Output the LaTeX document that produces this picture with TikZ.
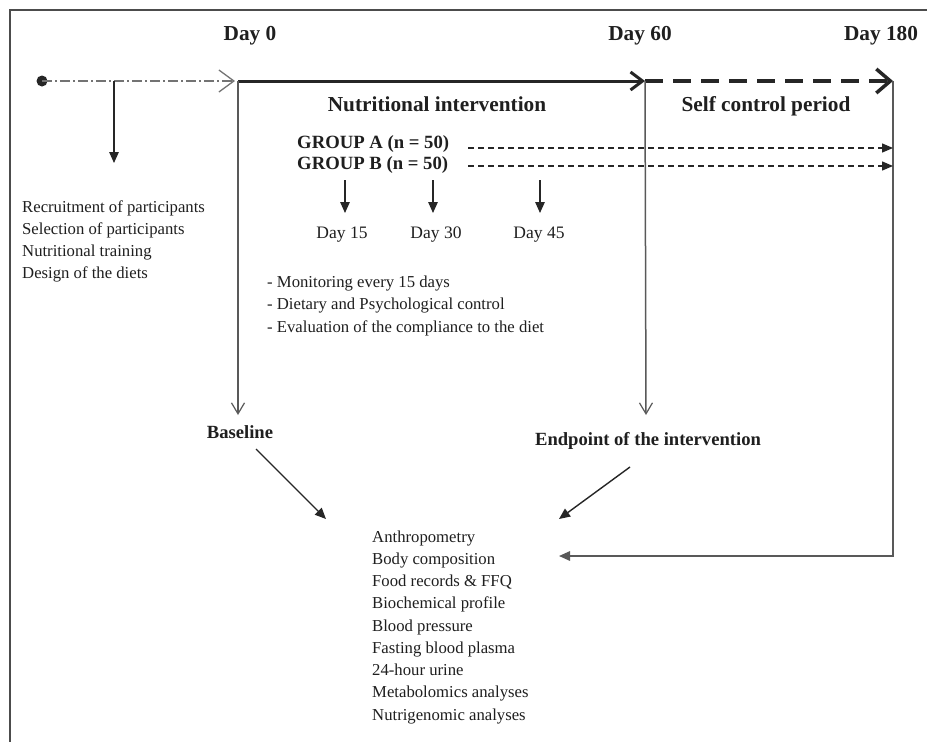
\documentclass[tikz,border=0pt]{standalone}
\usepackage{fontspec}
\setmainfont{Liberation Serif}
\usetikzlibrary{arrows.meta}
\begin{document}
\begin{tikzpicture}[x=1pt,y=-1pt,
  bodytxt/.style={inner sep=0pt,font=\fontsize{16.7}{20}\selectfont,text=black!88},
  daytxt/.style={inner sep=0pt,font=\fontsize{17.5}{20}\selectfont,text=black!88},
  headtxt/.style={inner sep=0pt,font=\fontsize{21.3}{24}\selectfont\bfseries,text=black!88},
  grouptxt/.style={inner sep=0pt,font=\fontsize{18.7}{22}\selectfont\bfseries,text=black!88},
  marktxt/.style={inner sep=0pt,font=\fontsize{18.6}{22}\selectfont\bfseries,text=black!88},
  framel/.style={draw=black!70,line width=2pt},
  filledarrow/.style={draw=black!85,line width=1.4pt,-{Triangle[length=11pt,width=9.5pt]}},
  greyvline/.style={draw=black!65,line width=1.5pt,-{Straight Barb[length=11pt,width=13pt,line width=1.2pt]}},
  dashdotline/.style={draw=black!55,line width=1.5pt,dash pattern=on 10pt off 3pt on 2pt off 3pt,
    -{Straight Barb[length=15pt,width=22pt,line width=1.3pt]}},
  thickline/.style={draw=black!85,line width=3pt,-{Straight Barb[length=12pt,width=18pt,line width=3pt]}},
  thickdash/.style={draw=black!85,line width=4pt,dash pattern=on 18pt off 10pt,
    -{Straight Barb[length=14pt,width=24pt,line width=3.5pt]}},
  groupdash/.style={draw=black!85,line width=1.3pt,dash pattern=on 6pt off 4pt,
    -{Triangle[length=11pt,width=9pt]}},
  sidevline/.style={draw=black!65,line width=1.5pt}
]
\useasboundingbox (0,0) rectangle (927,742);
\fill[white] (0,0) rectangle (927,742);
\draw[framel] (10,742) -- (10,10) -- (927,10);

% timeline coordinates
\coordinate (start) at (42,81);
\coordinate (d0) at (238,81);
\coordinate (d60) at (645,81);
\coordinate (d180) at (893,81);
\coordinate (recTop) at (114,81);
\coordinate (recTip) at (114,163);
\coordinate (d0Tip) at (238,415);
\coordinate (d60Tip) at (646,415);
\coordinate (d180Low) at (893,556);
\coordinate (listTip) at (559,556);

% day labels
\node[headtxt,anchor=base] (day0) at (250,40) {Day 0};
\node[headtxt,anchor=base] (day60) at (640,40) {Day 60};
\node[headtxt,anchor=base] (day180) at (881,40) {Day 180};

% timeline
\fill[black!85] (start) circle (5.5pt);
\draw[dashdotline,shorten >=3pt] (start) -- (d0);
\draw[filledarrow] (recTop) -- (recTip);
\draw[thickline] (d0) -- (d60);
\draw[thickdash] (d60) -- (d180);
\draw[greyvline] (d0) -- (d0Tip);
\draw[greyvline] (d60) -- (d60Tip);
\draw[sidevline,-{Triangle[length=11pt,width=9.5pt]}] (d180) -- (d180Low) -- (listTip);

% period titles
\node[headtxt,anchor=base] (nutint) at (437,111) {Nutritional intervention};
\node[headtxt,anchor=base] (selfctl) at (766,111) {Self control period};

% groups
\node[grouptxt,anchor=base west] (grpA) at (297,148) {GROUP A (n = 50)};
\node[grouptxt,anchor=base west] (grpB) at (297,169) {GROUP B (n = 50)};
\coordinate (gA0) at (468,148);
\coordinate (gA1) at (893,148);
\coordinate (gB0) at (468,166);
\coordinate (gB1) at (893,166);
\draw[groupdash] (gA0) -- (gA1);
\draw[groupdash] (gB0) -- (gB1);

% monitoring days
\foreach \xx/\lab/\cx in {345/15/342,433/30/436,540/45/539}{
  \coordinate (m\lab top) at (\xx,180);
  \coordinate (m\lab tip) at (\xx,213);
  \draw[filledarrow] (m\lab top) -- (m\lab tip);
  \node[daytxt,anchor=base] (day\lab) at (\cx,238) {Day \lab};
}

% left text
\foreach \t [count=\i] in {Recruitment of participants,Selection of participants,Nutritional training,Design of the diets}{
  \node[bodytxt,anchor=base west] (prep\i) at (22,{212+22*(\i-1)}) {\t};
}

% monitoring text
\foreach \t [count=\i] in {- Monitoring every 15 days,- Dietary and Psychological control,- Evaluation of the compliance to the diet}{
  \node[bodytxt,anchor=base west] (mon\i) at (267,{287+22.5*(\i-1)}) {\t};
}

% baseline / endpoint
\node[marktxt,anchor=base] (baseline) at (240,438) {Baseline};
\node[marktxt,anchor=base] (endpoint) at (648,445) {Endpoint of the intervention};
\coordinate (bA) at (256,449);
\coordinate (bB) at (326,519);
\coordinate (eA) at (630,467);
\coordinate (eB) at (559,519);
\draw[filledarrow] (bA) -- (bB);
\draw[filledarrow] (eA) -- (eB);

% measurement list
\foreach \t [count=\i] in {Anthropometry,Body composition,Food records \& FFQ,Biochemical profile,Blood pressure,Fasting blood plasma,24-hour urine,Metabolomics analyses,Nutrigenomic analyses}{
  \node[bodytxt,anchor=base west] (meas\i) at (372,{542+22.25*(\i-1)}) {\t};
}
\end{tikzpicture}
\end{document}
